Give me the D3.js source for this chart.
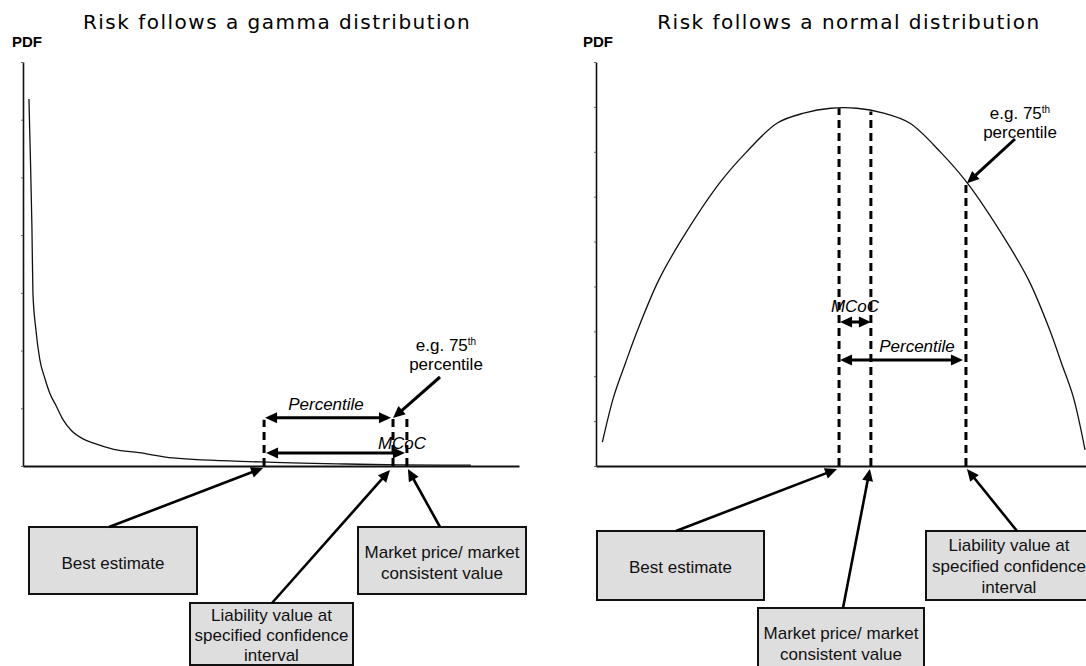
<!DOCTYPE html>
<html>
<head>
<meta charset="utf-8">
<script src="https://cdn.jsdelivr.net/npm/d3@7/dist/d3.min.js"></script>
<style>
  body { margin: 0; background: #fff; }
  svg { display: block; }
</style>
</head>
<body>
<script>
// panel titles
var titles = ["Risk follows a gamma distribution", "Risk follows a normal distribution"];

// gamma curve (x 0..10, y 0..7)
var gammaX = [0.12, 0.14, 0.18, 0.20, 0.26, 0.34, 0.44, 0.54, 0.67, 0.81, 0.97, 1.21, 1.41, 1.83, 2.34, 3.02, 4.78, 6.51, 7.60, 9.03];
var gammaY = [6.36, 5.65, 4.14, 3.00, 2.36, 1.84, 1.52, 1.26, 1.04, 0.80, 0.62, 0.47, 0.40, 0.29, 0.23, 0.14, 0.07, 0.035, 0.02, 0.015];

// normal-ish curve (x 0..10, y 0..9)
var normalX = [0.13, 0.36, 0.60, 0.85, 1.28, 1.74, 2.52, 3.05, 3.70, 4.24, 4.79, 5.32, 5.87, 6.40, 7.05, 7.58, 8.36, 8.83, 9.26, 9.50, 9.74, 9.98];
var normalY = [0.53, 1.54, 2.29, 3.03, 4.14, 5.03, 6.30, 6.97, 7.64, 7.86, 7.97, 7.97, 7.86, 7.64, 6.97, 6.30, 5.03, 4.14, 3.03, 2.29, 1.54, 0.36];

// dashed markers: best estimate, percentile value, market price
var gammaMarkers = [4.86, 7.46, 7.74];
var gammaMarkerTops = [0.8, 0.83, 0.83];
// best estimate, market price, percentile value
var normalMarkers = [4.96, 5.61, 7.55];
var normalMarkerTops = [7.97, 7.9, 6.3];

// y-axis tick values
var gammaTicks = [0, 1, 2, 3, 4, 5, 6, 7];
var normalTicks = [0, 1, 2, 3, 4, 5, 6, 7, 8, 9];

function init() {
    var w = 1086;
    var h = 666;
    var sans = "'Liberation Sans', Arial, sans-serif";

    var svg = d3.select("body")
                .append("svg")
                .attr("width", w)
                .attr("height", h);

    // draws a thick line with filled triangular heads
    function arrow(x1, y1, x2, y2, headStart, headEnd, sw) {
        var len = 12, half = 5.5;
        var dx = x2 - x1, dy = y2 - y1;
        var L = Math.hypot(dx, dy), ux = dx / L, uy = dy / L;
        var nx = -uy, ny = ux;
        var sx = headStart ? x1 + ux * (len - 2) : x1;
        var sy = headStart ? y1 + uy * (len - 2) : y1;
        var ex = headEnd ? x2 - ux * (len - 2) : x2;
        var ey = headEnd ? y2 - uy * (len - 2) : y2;
        svg.append("line")
            .attr("x1", sx).attr("y1", sy).attr("x2", ex).attr("y2", ey)
            .attr("stroke", "#000").attr("stroke-width", sw || 3);
        function head(tx, ty, vx, vy) {
            var pts = [[tx, ty],
                [tx - vx * len + nx * half, ty - vy * len + ny * half],
                [tx - vx * len - nx * half, ty - vy * len - ny * half]];
            svg.append("polygon").attr("points", pts.map(function (p) { return p.join(","); }).join(" "))
                .attr("fill", "#000");
        }
        if (headEnd) head(x2, y2, ux, uy);
        if (headStart) head(x1, y1, -ux, -uy);
    }

    function box(x, y, bw, bh, lines, baselines, cx) {
        svg.append("rect")
            .attr("x", x).attr("y", y).attr("width", bw).attr("height", bh)
            .attr("fill", "#dedede").attr("stroke", "#111").attr("stroke-width", 2);
        lines.forEach(function (t, i) {
            svg.append("text")
                .attr("x", cx !== undefined ? cx : x + bw / 2).attr("y", baselines[i])
                .attr("text-anchor", "middle")
                .style("font-family", sans).style("font-size", "17px").attr("fill", "#111")
                .text(t);
        });
    }

    function label(x, y, t, italic) {
        svg.append("text")
            .attr("x", x).attr("y", y)
            .attr("text-anchor", "middle")
            .style("font-family", sans).style("font-size", "17px")
            .style("font-style", italic ? "italic" : "normal")
            .text(t);
    }

    function pctLabel(x, y) {
        var t = svg.append("text")
            .attr("x", x).attr("y", y)
            .attr("text-anchor", "middle")
            .style("font-family", sans).style("font-size", "17px");
        t.append("tspan").text("e.g. 75");
        t.append("tspan").attr("dy", -6).style("font-size", "10px").text("th");
        svg.append("text")
            .attr("x", x).attr("y", y + 19)
            .attr("text-anchor", "middle")
            .style("font-family", sans).style("font-size", "17px")
            .text("percentile");
    }

    function panel(x, y, ticks, cx, xs, ys, title, pdfX, curve) {
        svg.append("text")
            .attr("x", cx).attr("y", 29)
            .attr("text-anchor", "middle")
            .style("font-family", "'DejaVu Sans', Verdana, sans-serif")
            .style("font-size", "20px").style("letter-spacing", "1.5px")
            .text(title);
        svg.append("text")
            .attr("x", pdfX).attr("y", 47)
            .style("font-family", sans).style("font-size", "15px").style("font-weight", "bold")
            .text("PDF");

        var yAxis = svg.append("g")
            .attr("transform", "translate(" + xs.range()[0] + ",0)")
            .call(d3.axisLeft(ys).tickValues(ticks).tickSize(2).tickSizeOuter(0).tickFormat(""));
        yAxis.select(".domain").attr("stroke", "#111").attr("stroke-width", 1.6);
        yAxis.selectAll(".tick line").attr("stroke", "#666");

        var xAxis = svg.append("g")
            .attr("transform", "translate(0," + ys.range()[0] + ")")
            .call(d3.axisBottom(xs).tickValues([]).tickSizeOuter(0));
        xAxis.select(".domain").attr("stroke", "#111").attr("stroke-width", 2);

        var line = d3.line()
            .x(function (d) { return xs(d[0]); })
            .y(function (d) { return ys(d[1]); })
            .curve(curve);
        svg.append("path")
            .datum(d3.zip(x, y))
            .attr("d", line)
            .attr("fill", "none")
            .attr("stroke", "#111")
            .attr("stroke-width", 1.3);
    }

    function dashes(markers, tops, xs, ys) {
        svg.selectAll(null)
            .data(d3.zip(markers, tops))
            .enter()
            .append("line")
            .attr("x1", function (d) { return xs(d[0]); })
            .attr("x2", function (d) { return xs(d[0]); })
            .attr("y1", ys(0))
            .attr("y2", function (d) { return ys(d[1]); })
            .attr("stroke", "#000")
            .attr("stroke-width", 3)
            .attr("stroke-dasharray", "8,5");
    }

    // ---- left: gamma ----
    var xL = d3.scaleLinear().domain([0, 10]).range([23, 519]);
    var yL = d3.scaleLinear().domain([0, 7]).range([466, 62]);
    panel(gammaX, gammaY, gammaTicks, 277, xL, yL, titles[0], 12, d3.curveMonotoneX);

    label(326, 410, "Percentile", true);
    label(402, 449, "MCoC", true);
    dashes(gammaMarkers, gammaMarkerTops, xL, yL);
    arrow(xL(gammaMarkers[0]) + 1, yL(gammaMarkerTops[0]) - 2, xL(gammaMarkers[1]) - 2, yL(gammaMarkerTops[0]) - 2, true, true);
    arrow(xL(gammaMarkers[0]) + 2, 453, xL(gammaMarkers[2]) - 2, 453, true, true);
    pctLabel(446, 351);
    arrow(440, 377, xL(gammaMarkers[1]), yL(gammaMarkerTops[1]), false, true);

    box(29, 527, 168, 67, ["Best estimate"], [569]);
    box(190, 603, 163, 62, ["Liability value at", "specified confidence", "interval"], [621, 641, 661]);
    box(358, 527, 168, 67, ["Market price/ market", "consistent value"], [558, 579]);
    arrow(109, 527, xL(gammaMarkers[0]) - 1, yL(0) + 2, false, true, 2.6);
    arrow(272, 603, xL(gammaMarkers[1]) - 3, yL(0) + 4, false, true, 2.6);
    arrow(440, 527, xL(gammaMarkers[2]) + 1, yL(0) + 3, false, true, 2.6);

    // ---- right: normal ----
    var xR = d3.scaleLinear().domain([0, 10]).range([596, 1086]);
    var yR = d3.scaleLinear().domain([0, 9]).range([466, 62]);
    panel(normalX, normalY, normalTicks, 849, xR, yR, titles[1], 583, d3.curveCatmullRom.alpha(0.5));

    label(855, 312, "MCoC", true);
    label(917, 352, "Percentile", true);
    dashes(normalMarkers, normalMarkerTops, xR, yR);
    arrow(xR(normalMarkers[0]) + 1, 322, xR(normalMarkers[1]), 322, true, true);
    arrow(xR(normalMarkers[0]) + 1, 360, xR(normalMarkers[2]) - 3, 360, true, true);
    pctLabel(1020, 119);
    arrow(1015, 139, xR(normalMarkers[2]) + 1, yR(normalMarkerTops[2]), false, true);

    box(597, 531, 167, 69, ["Best estimate"], [573]);
    box(758, 608, 166, 62, ["Market price/ market", "consistent value"], [639, 660]);
    box(926, 531, 168, 69, ["Liability value at", "specified confidence", "interval"], [551, 572, 593], 1009);
    arrow(676, 531, xR(normalMarkers[0]) - 2, yR(0) + 3, false, true, 2.6);
    arrow(843, 608, xR(normalMarkers[1]) - 1, yR(0) + 3, false, true, 2.6);
    arrow(1017, 531, xR(normalMarkers[2]) + 1, yR(0) + 3, false, true, 2.6);
}

window.onload = init;
</script>
</body>
</html>
